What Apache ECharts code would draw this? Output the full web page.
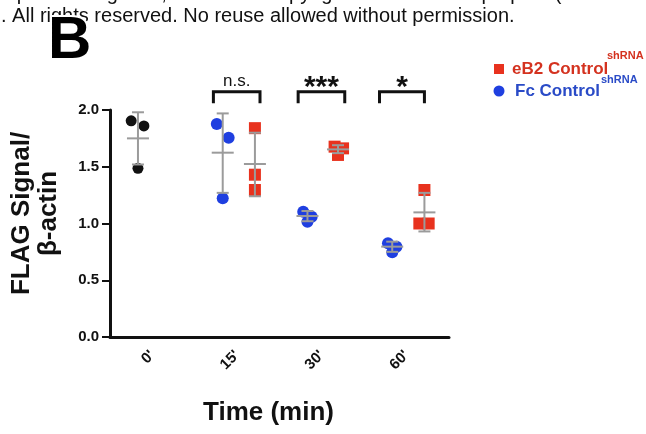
<!DOCTYPE html>
<html>
<head>
<meta charset="utf-8">
<script src="https://cdn.jsdelivr.net/npm/echarts@6/dist/echarts.min.js"></script>
<style>
html, body { margin: 0; padding: 0; background: #fff; }
#main { width: 646px; height: 434px; }
</style>
</head>
<body>
<div id="main"></div>
<script>
// time points on the x axis
var timeLabels = ["0'", "15'", "30'", "60'"];

// individual points [x position, value]; x runs 0..4 across the 4 groups
var ctrlPoints = [[0.25, 1.905], [0.40, 1.86], [0.33, 1.486]];
var fcPoints = [
	[1.26, 1.877], [1.40, 1.756], [1.33, 1.222],
	[2.28, 1.104], [2.38, 1.06], [2.33, 1.016],
	[3.28, 0.826], [3.38, 0.796], [3.33, 0.746]
];
var eb2Points = [
	[1.71, 1.84], [1.71, 1.43], [1.71, 1.295],
	[2.65, 1.677], [2.75, 1.662], [2.69, 1.604],
	[3.71, 1.295], [3.65, 1.0], [3.76, 1.0]
];

// mean +/- SD bars [x, mean, low, high]
var ctrlBars = [[0.33, 1.75, 1.52, 1.98]];
var fcBars = [[1.33, 1.624, 1.27, 1.97], [2.33, 1.066, 1.02, 1.11], [3.33, 0.796, 0.75, 0.84]];
var eb2Bars = [[1.71, 1.524, 1.24, 1.80], [2.69, 1.653, 1.62, 1.69], [3.71, 1.098, 0.93, 1.27]];

// significance brackets [x from, x to, top, foot]
var sigBrackets = [[1.22, 1.77, 2.16, 2.06], [2.22, 2.77, 2.16, 2.06], [3.18, 3.71, 2.16, 2.06]];
var sigLabels = ['n.s.', '***', '*'];

var BLUE = '#1f3fe0', RED = '#e8321e';

/* 误差线：竖线 + 上下帽 + 均值横线 */
function renderBar(params, api){
	var x = api.value(0);
	var mid = api.coord([x, api.value(1)]);
	var lo = api.coord([x, api.value(2)]);
	var hi = api.coord([x, api.value(3)]);
	var st = { stroke: '#9b9b9b', lineWidth: 2 };
	return {
		type: 'group',
		children: [
			{ type: 'line', shape: { x1: mid[0], y1: hi[1], x2: mid[0], y2: lo[1] }, style: st },
			{ type: 'line', shape: { x1: mid[0] - 6, y1: hi[1], x2: mid[0] + 6, y2: hi[1] }, style: st },
			{ type: 'line', shape: { x1: mid[0] - 6, y1: lo[1], x2: mid[0] + 6, y2: lo[1] }, style: st },
			{ type: 'line', shape: { x1: mid[0] - 11, y1: mid[1], x2: mid[0] + 11, y2: mid[1] }, style: st }
		]
	};
}

function renderBracket(params, api){
	var a = api.coord([api.value(0), api.value(2)]);
	var b = api.coord([api.value(1), api.value(2)]);
	var foot = api.coord([api.value(0), api.value(3)]);
	var label = sigLabels[params.dataIndex];
	var stars = label.indexOf('*') >= 0;
	return {
		type: 'group',
		children: [
			{
				type: 'polyline',
				shape: { points: [[a[0], foot[1]], [a[0], a[1]], [b[0], b[1]], [b[0], foot[1]]] },
				style: { stroke: '#111', lineWidth: 3, fill: null, lineJoin: 'miter' }
			},
			{
				type: 'text',
				x: (a[0] + b[0]) / 2,
				y: stars ? a[1] + 11 : a[1] - 2,
				style: {
					text: label,
					align: 'center',
					verticalAlign: 'bottom',
					fontFamily: 'Liberation Sans',
					fontSize: stars ? 30 : 17,
					fontWeight: stars ? 'bold' : 'normal',
					fill: '#111'
				}
			}
		]
	};
}

var chart = echarts.init(document.getElementById('main'));
chart.setOption({
	backgroundColor: '#fff',
	animation: false,
	textStyle: { fontFamily: 'Liberation Sans' },
	grid: { left: 108, right: 197, top: 110, bottom: 97 },
	xAxis: [{
		type: 'category',
		data: timeLabels,
		name: 'Time (min)',
		nameLocation: 'middle',
		nameGap: 63,
		nameTextStyle: { fontSize: 26, fontWeight: 'bold', color: '#111', padding: [0, 22, 0, 0] },
		axisLine: { lineStyle: { color: '#111', width: 3 } },
		axisTick: { alignWithLabel: true, length: 7, lineStyle: { color: '#111', width: 3 } },
		axisLabel: { rotate: 45, margin: 16, fontSize: 15, fontWeight: 'bold', color: '#111' }
	}, {
		type: 'value',
		min: 0,
		max: 4,
		show: false
	}],
	yAxis: {
		type: 'value',
		min: 0,
		max: 2,
		interval: 0.5,
		name: 'FLAG Signal/\nβ-actin',
		nameLocation: 'middle',
		nameGap: 48,
		nameTextStyle: { fontSize: 26, fontWeight: 'bold', color: '#111', lineHeight: 27, padding: [0, 0, 0, 20] },
		axisLine: { show: true, lineStyle: { color: '#111', width: 3 } },
		axisTick: { show: true, length: 8, lineStyle: { color: '#111', width: 2 } },
		axisLabel: {
			margin: 11, fontSize: 15, fontWeight: 'bold', color: '#111',
			formatter: function(v){ return v.toFixed(1); }
		},
		splitLine: { show: false }
	},
	series: [
		{ type: 'scatter', xAxisIndex: 1, data: ctrlPoints, symbol: 'circle', symbolSize: 11, itemStyle: { color: '#111', opacity: 1 }, z: 2 },
		{ type: 'scatter', xAxisIndex: 1, data: fcPoints, symbol: 'circle', symbolSize: 12, itemStyle: { color: BLUE, opacity: 1 }, z: 2 },
		{ type: 'scatter', xAxisIndex: 1, data: eb2Points, symbol: 'rect', symbolSize: 12, itemStyle: { color: RED, opacity: 1 }, z: 2 },
		{ type: 'custom', xAxisIndex: 1, data: ctrlBars.concat(fcBars, eb2Bars), encode: { x: 0, y: [1, 2, 3] }, renderItem: renderBar, z: 3 },
		{ type: 'custom', xAxisIndex: 1, data: sigBrackets, encode: { x: [0, 1], y: [2, 3] }, renderItem: renderBracket, clip: false, z: 3 }
	],
	graphic: [
		{ type: 'text', left: 0, top: -16, style: { text: 'n posted August 7, 2019. The copyright holder for this preprint (which', fontFamily: 'Liberation Sans', fontSize: 20, fill: '#111' } },
		{ type: 'text', left: 1, top: 6, style: { text: '. All rights reserved. No reuse allowed without permission.', fontFamily: 'Liberation Sans', fontSize: 20, fill: '#111' } },
		{ type: 'text', x: 48, y: 41, style: { text: 'B', fontFamily: 'Liberation Sans', fontSize: 60, fontWeight: 'bold', fill: '#000', verticalAlign: 'middle', stroke: '#fff', lineWidth: 4 } },
		// legend
		{ type: 'rect', shape: { x: 494, y: 64, width: 10, height: 10 }, style: { fill: RED } },
		{ type: 'text', x: 512, y: 69, style: { text: 'eB2 Control', fontFamily: 'Liberation Sans', fontSize: 17, fontWeight: 'bold', fill: '#d4321f', verticalAlign: 'middle' } },
		{ type: 'text', x: 607, y: 56, style: { text: 'shRNA', fontFamily: 'Liberation Sans', fontSize: 11, fontWeight: 'bold', fill: '#d4321f', verticalAlign: 'middle' } },
		{ type: 'circle', shape: { cx: 499, cy: 91, r: 5.5 }, style: { fill: BLUE } },
		{ type: 'text', x: 515, y: 91, style: { text: 'Fc Control', fontFamily: 'Liberation Sans', fontSize: 17, fontWeight: 'bold', fill: '#2a4bc7', verticalAlign: 'middle' } },
		{ type: 'text', x: 601, y: 80, style: { text: 'shRNA', fontFamily: 'Liberation Sans', fontSize: 11, fontWeight: 'bold', fill: '#2a4bc7', verticalAlign: 'middle' } }
	]
});
</script>
</body>
</html>
